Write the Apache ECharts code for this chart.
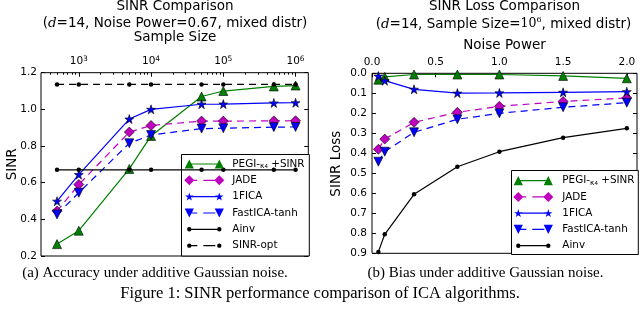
<!DOCTYPE html>
<html><head><meta charset="utf-8">
<script src="https://cdn.jsdelivr.net/npm/echarts@6/dist/echarts.min.js"></script>
<style>html,body{margin:0;padding:0;background:#fff}#c{width:640px;height:316px}</style>
</head><body><div id="c"></div>
<script>
// ---------- data ----------
const sampleSizes = [500, 1000, 5000, 10000, 50000, 100000, 500000, 1000000];
const sampleMajorTicks = [1000, 10000, 100000, 1000000];
const sampleMinorTicks = [400,500,600,700,800,900,2000,3000,4000,5000,6000,7000,8000,9000,
  20000,30000,40000,50000,60000,70000,80000,90000,200000,300000,400000,500000,600000,700000,800000,900000];
const sinrPegi    = [0.265, 0.338, 0.675, 0.855, 1.070, 1.100, 1.125, 1.130];
const sinrJade    = [0.445, 0.590, 0.876, 0.912, 0.936, 0.936, 0.937, 0.938];
const sinr1fica   = [0.499, 0.644, 0.947, 1.000, 1.028, 1.029, 1.035, 1.036];
const sinrFastica = [0.427, 0.545, 0.815, 0.860, 0.895, 0.897, 0.903, 0.904];
const sinrAinv    = [0.670, 0.670, 0.670, 0.670, 0.670, 0.670, 0.670, 0.670];
const sinrOpt     = [1.136, 1.136, 1.136, 1.136, 1.136, 1.136, 1.136, 1.136];

const noisePowers = [0.05, 0.1, 0.33, 0.67, 1.0, 1.5, 2.0];
const noiseTicks  = [0, 0.5, 1.0, 1.5, 2.0];
const lossPegi    = [0.032, 0.018, 0.006, 0.006, 0.006, 0.013, 0.025];
const lossJade    = [0.380, 0.329, 0.245, 0.195, 0.165, 0.141, 0.123];
const loss1fica   = [0.014, 0.037, 0.080, 0.099, 0.098, 0.095, 0.092];
const lossFastica = [0.442, 0.392, 0.295, 0.230, 0.200, 0.170, 0.147];
const lossAinv    = [0.893, 0.805, 0.605, 0.467, 0.392, 0.322, 0.275];

const NAMES = ['PEGI-κ₄ +SINR', 'JADE', '1FICA', 'FastICA-tanh', 'Ainv', 'SINR-opt'];

// ---------- styles ----------
const FONT = 'DejaVu Sans';
const SERIF = 'Liberation Serif';
const GREEN = '#008000', MAG = '#bf00bf', BLUE = '#0000ff', BLACK = '#000000';
const DASH = [7, 5];

function starPath(cx, cy, R) {
  const r = R * 0.382; let p = '';
  for (let k = 0; k < 10; k++) {
    const a = (-90 + k * 36) * Math.PI / 180, rr = k % 2 ? r : R;
    p += (k ? ' L' : 'M') + (cx + rr * Math.cos(a)).toFixed(3) + ' ' + (cy + rr * Math.sin(a)).toFixed(3);
  }
  return p + ' Z';
}
const STAR = 'path://' + starPath(50, 50, 50);

// legend icon pieces on a 40x10 canvas
const anchors = 'M0 0 L0.02 0 L0 0.02 Z M40 10 L39.98 10 L40 9.98 Z ';
const triUp = (cx) => `M${cx-4.6} 9.6 L${cx} 0.4 L${cx+4.6} 9.6 Z `;
const triDn = (cx) => `M${cx-4.6} 0.4 L${cx+4.6} 0.4 L${cx} 9.6 Z `;
const dia = (cx) => `M${cx-5} 5 L${cx} 0 L${cx+5} 5 L${cx} 10 Z `;
const dot = (cx) => `M${cx-2.2} 5 A2.2 2.2 0 1 1 ${cx+2.2} 5 A2.2 2.2 0 1 1 ${cx-2.2} 5 Z `;
const seg = (x1, x2) => `M${x1} 4.4 L${x2} 4.4 L${x2} 5.6 L${x1} 5.6 Z `;
const solid = seg(5, 35);
const dashed = seg(5, 13) + seg(19, 31);
const ICONS = {
  'PEGI-κ₄ +SINR': 'path://' + anchors + triUp(5) + triUp(35) + solid,
  'JADE': 'path://' + anchors + dia(5) + dia(35) + dashed,
  '1FICA': 'path://' + anchors + starPath(5, 5.3, 4.4) + ' ' + starPath(35, 5.3, 4.4) + ' ' + solid,
  'FastICA-tanh': 'path://' + anchors + triDn(5) + triDn(35) + dashed,
  'Ainv': 'path://' + anchors + dot(5) + dot(35) + solid,
  'SINR-opt': 'path://' + anchors + dot(5) + dot(35) + dashed
};

const STYLE = {
  'PEGI-κ₄ +SINR': {color: GREEN, symbol: 'triangle', size: 9, dash: false, border: true},
  'JADE': {color: MAG, symbol: 'diamond', size: 10, dash: true, border: true},
  '1FICA': {color: BLUE, symbol: STAR, size: 9, dash: false, border: true},
  'FastICA-tanh': {color: BLUE, symbol: 'triangle', rotate: 180, size: 9, dash: true, border: true},
  'Ainv': {color: BLACK, symbol: 'circle', size: 4.5, dash: false, border: false},
  'SINR-opt': {color: BLACK, symbol: 'circle', size: 4.5, dash: true, border: false}
};

function mkSeries(name, xs, ys, xi, yi) {
  const s = STYLE[name];
  return {
    type: 'line', name, xAxisIndex: xi, yAxisIndex: yi,
    data: xs.map((x, i) => [x, ys[i]]),
    symbol: s.symbol, symbolSize: s.size, symbolRotate: s.rotate || 0, showAllSymbol: true,
    lineStyle: {color: s.color, width: 1.2, type: s.dash ? DASH : 'solid'},
    itemStyle: {color: s.color, borderColor: s.border ? '#000' : s.color, borderWidth: s.border ? 0.6 : 0},
    emphasis: {disabled: true}, silent: true, animation: false
  };
}

const series = [
  mkSeries(NAMES[0], sampleSizes, sinrPegi, 0, 0),
  mkSeries(NAMES[1], sampleSizes, sinrJade, 0, 0),
  mkSeries(NAMES[2], sampleSizes, sinr1fica, 0, 0),
  mkSeries(NAMES[3], sampleSizes, sinrFastica, 0, 0),
  mkSeries(NAMES[4], sampleSizes, sinrAinv, 0, 0),
  mkSeries(NAMES[5], sampleSizes, sinrOpt, 0, 0),
  mkSeries(NAMES[0], noisePowers, lossPegi, 2, 2),
  mkSeries(NAMES[1], noisePowers, lossJade, 2, 2),
  mkSeries(NAMES[2], noisePowers, loss1fica, 2, 2),
  mkSeries(NAMES[3], noisePowers, lossFastica, 2, 2),
  mkSeries(NAMES[4], noisePowers, lossAinv, 2, 2)
];

const tickLbl = {fontSize: 10.5, fontFamily: FONT, color: '#000'};
const tickStyle = {show: true, inside: true, length: 4, lineStyle: {color: '#000', width: 1}};
const noLine = {show: false};
const noSplit = {show: false};

const legendRich = {
  n: {fontSize: 10.4, fontFamily: FONT, color: '#000', lineHeight: 12},
  k: {fontSize: 7.5, fontFamily: FONT, color: '#000', lineHeight: 11, verticalAlign: 'bottom'},
  sub: {fontSize: 5.5, fontFamily: FONT, color: '#000', lineHeight: 9, verticalAlign: 'bottom'}
};
function legendFmt(name) {
  if (name === NAMES[0]) return '{n|PEGI-}{k|κ}{sub|4}{n| +SINR}';
  return '{n|' + name + '}';
}
function mkLegend(names, left, top, w, gap) {
  return {
    orient: 'vertical', left, top, itemWidth: w, itemHeight: 10, itemGap: gap, padding: 0,
    selectedMode: false, z: 5,
    itemStyle: {borderWidth: 0},
    data: names.map(n => ({name: n, icon: ICONS[n]})),
    formatter: legendFmt,
    textStyle: {fontSize: 10.4, fontFamily: FONT, color: '#000', lineHeight: 12, padding: [0, 0, 0, 3], rich: legendRich}
  };
}

function txt(x, y, text, size, extra) {
  const st = Object.assign({text, fontSize: size, fontFamily: FONT, fill: '#000',
    align: 'center', verticalAlign: 'middle', textAlign: 'center', textVerticalAlign: 'middle'}, extra || {});
  return {type: 'text', x, y, z: 10, silent: true, style: st};
}
const italicD = {fontSize: 13.5, fontFamily: 'DejaVu Serif', fontStyle: 'italic', fill: '#000'};

const option = {
  animation: false,
  grid: [
    {left: 41, top: 72.7, width: 267.3, height: 183.3, show: true, borderColor: '#000', borderWidth: 1, backgroundColor: '#fff'},
    {left: 372, top: 73.3, width: 265, height: 180, show: true, borderColor: '#000', borderWidth: 1, backgroundColor: '#fff'}
  ],
  xAxis: [
    {gridIndex: 0, type: 'log', min: 300, max: 1500000, position: 'top', axisLine: noLine, splitLine: noSplit,
     axisTick: Object.assign({}, tickStyle, {customValues: sampleMajorTicks}),
     axisLabel: {customValues: sampleMajorTicks, margin: 5,
       formatter: v => '{b|10}{s|' + Math.round(Math.log10(v)) + '}',
       rich: {b: {fontSize: 10.5, fontFamily: FONT, color: '#000', lineHeight: 13},
              s: {fontSize: 7.5, fontFamily: FONT, color: '#000', lineHeight: 6, verticalAlign: 'top'}}}},
    {gridIndex: 0, type: 'log', min: 300, max: 1500000, position: 'top', axisLine: noLine, splitLine: noSplit,
     axisTick: {show: true, inside: true, length: 2, lineStyle: {color: '#000', width: 1}, customValues: sampleMinorTicks},
     axisLabel: {show: false}},
    {gridIndex: 1, type: 'value', min: 0, max: 2.08, position: 'top', axisLine: noLine, splitLine: noSplit,
     axisTick: Object.assign({}, tickStyle, {customValues: noiseTicks}),
     axisLabel: Object.assign({}, tickLbl, {customValues: noiseTicks, margin: 5, lineHeight: 12, formatter: v => v.toFixed(1)})}
  ],
  yAxis: [
    {gridIndex: 0, type: 'value', min: 0.2, max: 1.2, interval: 0.2, position: 'left', axisLine: noLine, splitLine: noSplit,
     axisTick: tickStyle, axisLabel: Object.assign({}, tickLbl, {margin: 4, formatter: v => v.toFixed(1)})},
    {gridIndex: 0, type: 'value', min: 0.2, max: 1.2, interval: 0.2, position: 'right', axisLine: noLine, splitLine: noSplit,
     axisTick: tickStyle, axisLabel: {show: false}},
    {gridIndex: 1, type: 'value', min: 0, max: 0.9, interval: 0.1, inverse: true, position: 'left', axisLine: noLine, splitLine: noSplit,
     axisTick: tickStyle, axisLabel: Object.assign({}, tickLbl, {margin: 5, formatter: v => v.toFixed(1)})},
    {gridIndex: 1, type: 'value', min: 0, max: 0.9, interval: 0.1, inverse: true, position: 'right', axisLine: noLine, splitLine: noSplit,
     axisTick: tickStyle, axisLabel: {show: false}}
  ],
  legend: [
    mkLegend(NAMES, 184.3, 158, 40, 4.33),
    mkLegend(NAMES.slice(0, 5), 513.3, 174.7, 42, 4.25)
  ],
  series,
  graphic: {elements: [
    {type: 'rect', z: 3, silent: true, shape: {x: 181.5, y: 154.5, width: 127.8, height: 101.5},
     style: {fill: '#fff', stroke: '#000', lineWidth: 1}},
    {type: 'rect', z: 3, silent: true, shape: {x: 511.5, y: 170.5, width: 126.8, height: 84},
     style: {fill: '#fff', stroke: '#000', lineWidth: 1}},
    txt(175, 6.7, 'SINR Comparison', 13.5),
    txt(175, 23.3, '({d|d}=14, Noise Power=0.67, mixed distr)', 13.5, {rich: {d: italicD}}),
    txt(175, 37.8, 'Sample Size', 13.5),
    txt(12, 164.3, 'SINR', 13.5),
    txt(504.5, 6.7, 'SINR Loss Comparison', 13.5),
    txt(503.5, 24, '({d|d}=14, Sample Size={m|10}{p|6}, mixed distr)', 13.5,
        {rich: {d: italicD,
                m: {fontSize: 12.5, fontFamily: 'DejaVu Serif', fill: '#000', lineHeight: 16},
                p: {fontSize: 8, fontFamily: 'DejaVu Serif', fill: '#000', lineHeight: 8, verticalAlign: 'top'}}}),
    txt(504.5, 45, 'Noise Power', 13.5),
    txt(155, 273, '(a) Accuracy under additive Gaussian noise.', 15, {fontFamily: SERIF}),
    txt(485.5, 273, '(b) Bias under additive Gaussian noise.', 15, {fontFamily: SERIF}),
    txt(320, 293.5, 'Figure 1: SINR performance comparison of ICA algorithms.', 16.5, {fontFamily: SERIF})
  ]}
};
// rotated y-axis names
option.graphic.elements[5].rotation = Math.PI / 2;
option.graphic.elements.push(Object.assign(txt(336, 163.7, 'SINR Loss', 13.5), {rotation: Math.PI / 2}));

const chart = echarts.init(document.getElementById('c'), null, {renderer: 'canvas'});
chart.setOption(option);
</script>
</body></html>
